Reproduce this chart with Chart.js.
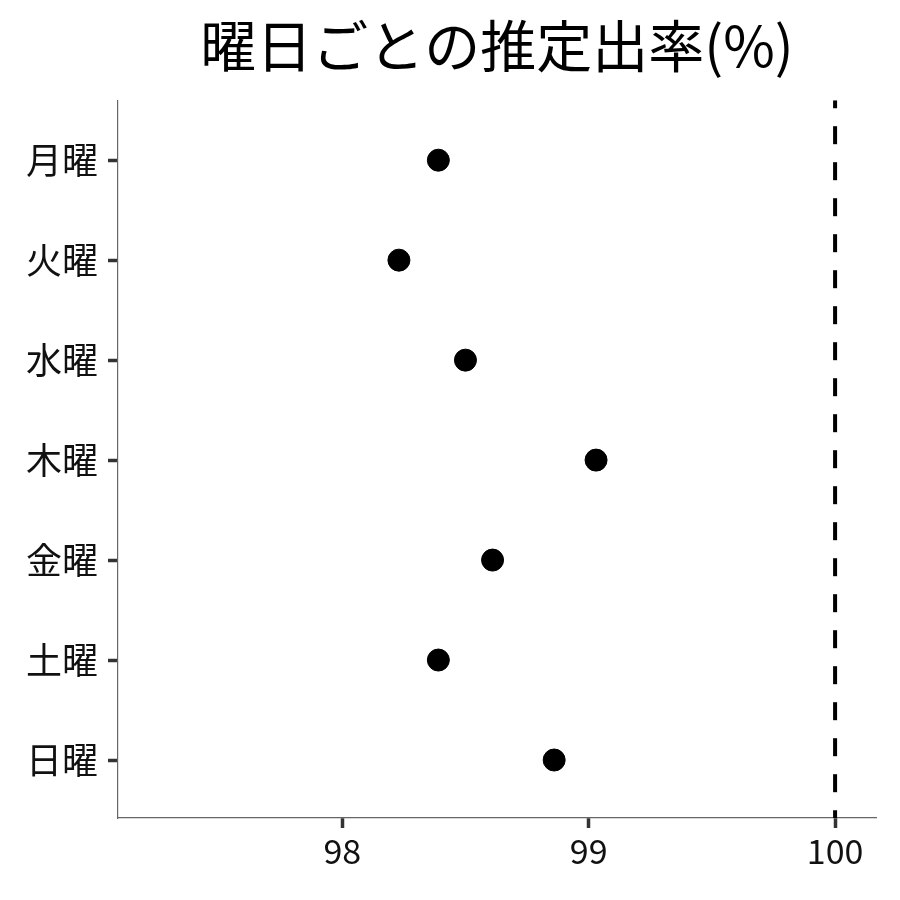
<!DOCTYPE html>
<html>
<head>
<meta charset="utf-8">
<script src="https://cdn.jsdelivr.net/npm/chart.js@4/dist/chart.umd.min.js"></script>
<style>
  body { margin: 0; background: #fff; }
  .ChartWrapper { width: 900px; height: 900px; }
</style>
</head>
<body>
<div class="ChartWrapper"><canvas id="DayRatePlot"></canvas></div>
<script>
// 曜日ごとの推定出率
const days = ['月曜', '火曜', '水曜', '木曜', '金曜', '土曜', '日曜']
const rates = [98.39, 98.23, 98.50, 99.03, 98.61, 98.39, 98.86]
const xTicks = [98, 99, 100]
const refLine = 100

const font = '"Noto Sans CJK JP", "Noto Sans", sans-serif'

const points = rates.map((v, i) => ({x: v, y: i + 1}))

// center the title over the plot panel, not the whole canvas
const centerTitle = {
    id: 'centerTitle',
    afterLayout: chart => {
        const t = chart.titleBlock
        if (!t) return
        t.left = chart.chartArea.left
        t.right = chart.chartArea.right
    }
}

new Chart(document.getElementById('DayRatePlot'), {
    type: 'scatter',
    data: {
        datasets: [{
            label: 'rate',
            data: points,
            backgroundColor: '#000',
            borderColor: '#000',
            pointRadius: 11,
            pointHoverRadius: 11,
        },
        {
            label: 'ref',
            data: [{x: refLine, y: 0.4}, {x: refLine, y: 7.58}],
            showLine: true,
            borderColor: '#000',
            borderWidth: 4,
            borderDash: [18, 18],
            borderDashOffset: 10,
            pointRadius: 0,
        }]
    },
    plugins: [centerTitle],
    options: {
        responsive: true,
        maintainAspectRatio: false,
        animation: false,
        devicePixelRatio: 1,
        layout: { padding: {right: 24, left: 0, bottom: 0} },
        plugins: {
            legend: { display: false },
            tooltip: { enabled: false },
            title: {
                display: true,
                text: '曜日ごとの推定出率(%)',
                color: '#000',
                font: { family: font, size: 56, weight: 'normal' },
                padding: { top: 12, bottom: 21 }
            }
        },
        scales: {
            x: {
                type: 'linear',
                min: 97.09,
                max: 100.166,
                afterBuildTicks: s => { s.ticks = xTicks.map(v => ({value: v})) },
                afterFit: s => { s.height = 82 },
                grid: { drawOnChartArea: false, tickLength: 10, tickColor: '#333', tickWidth: 3.5 },
                border: { display: true, color: '#666', width: 1.2 },
                ticks: { color: '#111', font: { family: font, size: 34 }, padding: 3 }
            },
            y: {
                type: 'linear',
                reverse: true,
                min: 0.4,
                max: 7.58,
                afterBuildTicks: s => { s.ticks = days.map((d, i) => ({value: i + 1})) },
                afterFit: s => { s.width = 118 },
                grid: { drawOnChartArea: false, tickLength: 10, tickColor: '#333', tickWidth: 3.5 },
                border: { display: true, color: '#666', width: 1.2 },
                ticks: {
                    color: '#111',
                    font: { family: font, size: 36 },
                    padding: 10,
                    callback: v => days[v - 1]
                }
            }
        }
    }
})
</script>
</body>
</html>
